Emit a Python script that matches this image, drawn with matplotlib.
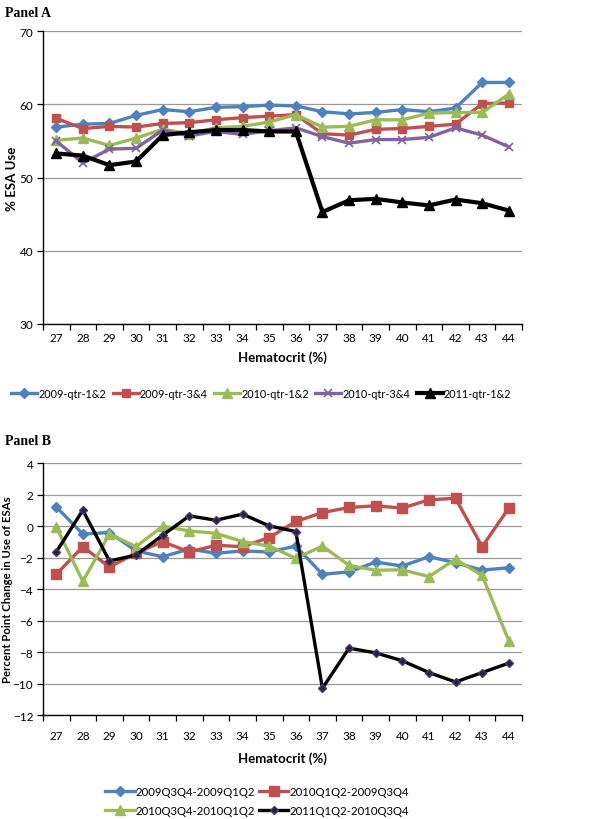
import matplotlib.pyplot as plt
import numpy as np

# Hematocrit categories
hct = [27, 28, 29, 30, 31, 32, 33, 34, 35, 36, 37, 38, 39, 40, 41, 42, 43, 44]

# Panel A: % ESA use
a_2009_12 = [56.9, 57.3, 57.4, 58.5, 59.3, 59.0, 59.6, 59.7, 59.9, 59.8, 59.0, 58.7, 58.9, 59.3, 59.0, 59.5, 63.0, 63.0]
a_2009_34 = [58.1, 56.7, 57.0, 56.9, 57.4, 57.5, 57.9, 58.2, 58.4, 58.6, 56.0, 55.8, 56.6, 56.7, 57.0, 57.3, 60.1, 60.2]
a_2010_12 = [55.1, 55.4, 54.4, 55.4, 56.6, 56.0, 56.8, 57.0, 57.6, 58.6, 56.9, 57.0, 57.9, 57.9, 58.8, 58.9, 58.9, 61.4]
a_2010_34 = [55.0, 52.0, 53.9, 54.0, 56.5, 55.7, 56.3, 55.9, 56.4, 56.8, 55.6, 54.7, 55.2, 55.2, 55.5, 56.8, 55.8, 54.2]
a_2011_12 = [53.3, 53.0, 51.7, 52.2, 55.8, 56.2, 56.5, 56.5, 56.3, 56.3, 45.3, 46.9, 47.1, 46.6, 46.2, 47.0, 46.5, 45.5]

# Panel B: percent point change
b_1 = [1.23, -0.5, -0.4, -1.57, -1.94, -1.45, -1.72, -1.57, -1.64, -1.26, -3.06, -2.9, -2.28, -2.53, -1.94, -2.32, -2.79, -2.64]
b_2 = [-3.06, -1.3, -2.6, -1.7, -0.98, -1.64, -1.21, -1.3, -0.72, 0.3, 0.87, 1.19, 1.3, 1.15, 1.68, 1.77, -1.3, 1.15]
b_3 = [-0.04, -3.5, -0.5, -1.3, 0.0, -0.3, -0.45, -0.98, -1.26, -2.04, -1.26, -2.49, -2.8, -2.77, -3.2, -2.1, -3.13, -7.28]
b_4 = [-1.64, 1.02, -2.21, -1.83, -0.57, 0.66, 0.38, 0.77, 0.02, -0.34, -10.3, -7.75, -8.05, -8.55, -9.3, -9.9, -9.3, -8.7]

BLUE, RED, GREEN, PURPLE = "#4F81BD", "#C0504D", "#9BBB59", "#8064A2"
SANS = "Lato"

fig = plt.figure(figsize=(5.96, 8.2), dpi=100)
axA = fig.add_axes([0.072, 0.6037, 0.804, 0.357])
axB = fig.add_axes([0.072, 0.1268, 0.804, 0.307])

x = np.arange(len(hct))


def style(ax, ylim, yticks, xpad):
    ax.set_xlim(-0.5, len(hct) - 0.5)
    ax.set_ylim(*ylim)
    ax.set_yticks(yticks)
    ax.set_xticks(x)
    ax.set_xticklabels([str(h) for h in hct], fontsize=8.5, family=SANS)
    ax.set_xticks(np.arange(-0.5, len(hct), 1), minor=True)
    ax.tick_params(axis="x", which="major", length=0, pad=xpad)
    ax.tick_params(axis="x", which="minor", length=4, direction="out", width=0.9)
    ax.tick_params(axis="y", length=4, direction="out", width=0.9, labelsize=8.5, pad=3)
    for t in ax.get_yticklabels():
        t.set_family(SANS)
    ax.grid(axis="y", color="#9a9a9a", linewidth=0.9)
    ax.set_axisbelow(True)
    for s in ["top", "right"]:
        ax.spines[s].set_visible(False)
    ax.spines["left"].set_linewidth(1.0)
    ax.spines["bottom"].set_linewidth(1.0)


lw = 2.4
axA.plot(x, a_2009_12, color=BLUE, marker="D", ms=5, lw=lw, label="2009-qtr-1&2")
axA.plot(x, a_2009_34, color=RED, marker="s", ms=6, lw=lw, label="2009-qtr-3&4")
axA.plot(x, a_2010_12, color=GREEN, marker="^", ms=6.5, lw=lw, label="2010-qtr-1&2")
axA.plot(x, a_2010_34, color=PURPLE, marker="x", ms=6, mew=1.2, lw=lw, label="2010-qtr-3&4")
axA.plot(x, a_2011_12, color="black", marker="^", ms=6.5, lw=lw + 0.6, label="2011-qtr-1&2")
style(axA, (30, 70), [30, 40, 50, 60, 70], 6)
axA.set_xlabel("Hematocrit (%)", fontsize=9.5, fontweight="bold", family=SANS, labelpad=5)
axA.set_ylabel("% ESA Use", fontsize=9.5, fontweight="bold", family=SANS)
axA.yaxis.set_label_coords(-0.052, 0.5)
axA.legend(loc="upper center", bbox_to_anchor=(0.456, -0.185), ncol=5, frameon=False,
           prop={"family": SANS, "size": 7.8}, handlelength=2.4, handletextpad=0.1,
           columnspacing=0.6)

hB1, = axB.plot(x, b_1, color=BLUE, marker="D", ms=5, lw=lw, label="2009Q3Q4-2009Q1Q2")
hB2, = axB.plot(x, b_2, color=RED, marker="s", ms=6.5, lw=lw, label="2010Q1Q2-2009Q3Q4")
hB3, = axB.plot(x, b_3, color=GREEN, marker="^", ms=7, lw=lw, label="2010Q3Q4-2010Q1Q2")
hB4, = axB.plot(x, b_4, color="black", marker="D", ms=4.5, mfc="#2a1f3d", mec="#4a3a6a", lw=lw,
                label="2011Q1Q2-2010Q3Q4")
style(axB, (-12, 4), [-12, -10, -8, -6, -4, -2, 0, 2, 4], 11)
axB.set_xlabel("Hematocrit (%)", fontsize=9.5, fontweight="bold", family=SANS, labelpad=7)
axB.set_ylabel("Percent Point Change in Use of ESAs", fontsize=8.2, fontweight="bold", family=SANS)
axB.yaxis.set_label_coords(-0.062, 0.5)
handles = [hB1, hB3, hB2, hB4]
axB.legend(handles, [h.get_label() for h in handles], loc="upper center",
           bbox_to_anchor=(0.447, -0.24), ncol=2, frameon=False,
           prop={"family": SANS, "size": 8.2}, handlelength=2.6, handletextpad=0.1,
           columnspacing=0.3, labelspacing=0.75)

fig.text(0.008, 0.983, "Panel A", fontsize=10, fontweight="bold", family="Liberation Serif",
         va="center")
fig.text(0.008, 0.461, "Panel B", fontsize=10, fontweight="bold", family="Liberation Serif",
         va="center")

fig.savefig("out.png", dpi=100)
